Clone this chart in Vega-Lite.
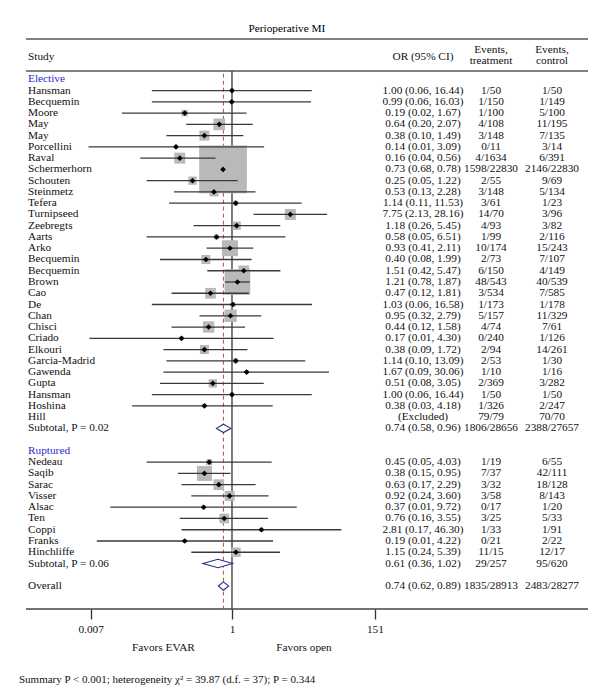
{
  "$schema": "https://vega.github.io/schema/vega-lite/v6.json",
  "autosize": {"type": "pad"},
  "padding": {"left": 19, "top": 22, "right": 5, "bottom": 5},
  "background": "white",
  "config": {"view": {"stroke": null}, "font": "Liberation Serif", "concat": {"spacing": 0}},
  "title": {"text": "Perioperative MI", "anchor": "middle", "dx": -17, "offset": 4, "fontSize": 11.3, "fontWeight": "normal", "font": "Liberation Serif", "color": "black"},
  "datasets": {
    "rows": [
      {"r": -2, "kind": "header", "name": "Study", "or": "OR (95% CI)", "trt": "Events,\ntreatment", "ctl": "Events,\ncontrol"},
      {"r": 0, "kind": "group", "name": "Elective"},
      {"r": 1, "kind": "study", "name": "Hansman", "or": "1.00 (0.06, 16.44)", "trt": "1/50", "ctl": "1/50", "est": 1.00, "lo": 0.06, "hi": 16.44, "w": 0.29},
      {"r": 2, "kind": "study", "name": "Becquemin", "or": "0.99 (0.06, 16.03)", "trt": "1/150", "ctl": "1/149", "est": 0.99, "lo": 0.06, "hi": 16.03, "w": 0.29},
      {"r": 3, "kind": "study", "name": "Moore", "or": "0.19 (0.02, 1.67)", "trt": "1/100", "ctl": "5/100", "est": 0.19, "lo": 0.021, "hi": 1.67, "w": 0.75},
      {"r": 4, "kind": "study", "name": "May", "or": "0.64 (0.20, 2.07)", "trt": "4/108", "ctl": "11/195", "est": 0.64, "lo": 0.20, "hi": 2.07, "w": 2.44},
      {"r": 5, "kind": "study", "name": "May", "or": "0.38 (0.10, 1.49)", "trt": "3/148", "ctl": "7/135", "est": 0.38, "lo": 0.10, "hi": 1.49, "w": 1.79},
      {"r": 6, "kind": "study", "name": "Porcellini", "or": "0.14 (0.01, 3.09)", "trt": "0/11", "ctl": "3/14", "est": 0.14, "lo": 0.0065, "hi": 3.09, "w": 0.29},
      {"r": 7, "kind": "study", "name": "Raval", "or": "0.16 (0.04, 0.56)", "trt": "4/1634", "ctl": "6/391", "est": 0.16, "lo": 0.04, "hi": 0.56, "w": 2.17},
      {"r": 8, "kind": "study", "name": "Schermerhorn", "or": "0.73 (0.68, 0.78)", "trt": "1598/22830", "ctl": "2146/22830", "est": 0.73, "lo": 0.68, "hi": 0.78, "w": 40.73},
      {"r": 9, "kind": "study", "name": "Schouten", "or": "0.25 (0.05, 1.22)", "trt": "2/55", "ctl": "9/69", "est": 0.25, "lo": 0.05, "hi": 1.22, "w": 1.24},
      {"r": 10, "kind": "study", "name": "Steinmetz", "or": "0.53 (0.13, 2.28)", "trt": "3/148", "ctl": "5/134", "est": 0.53, "lo": 0.13, "hi": 2.28, "w": 1.45},
      {"r": 11, "kind": "study", "name": "Tefera", "or": "1.14 (0.11, 11.53)", "trt": "3/61", "ctl": "1/23", "est": 1.14, "lo": 0.11, "hi": 11.53, "w": 0.45},
      {"r": 12, "kind": "study", "name": "Turnipseed", "or": "7.75 (2.13, 28.16)", "trt": "14/70", "ctl": "3/96", "est": 7.75, "lo": 2.13, "hi": 28.16, "w": 2.17},
      {"r": 13, "kind": "study", "name": "Zeebregts", "or": "1.18 (0.26, 5.45)", "trt": "4/93", "ctl": "3/82", "est": 1.18, "lo": 0.26, "hi": 5.45, "w": 1.24},
      {"r": 14, "kind": "study", "name": "Aarts", "or": "0.58 (0.05, 6.51)", "trt": "1/99", "ctl": "2/116", "est": 0.58, "lo": 0.05, "hi": 6.51, "w": 0.45},
      {"r": 15, "kind": "study", "name": "Arko", "or": "0.93 (0.41, 2.11)", "trt": "10/174", "ctl": "15/243", "est": 0.93, "lo": 0.41, "hi": 2.11, "w": 4.58},
      {"r": 16, "kind": "study", "name": "Becquemin", "or": "0.40 (0.08, 1.99)", "trt": "2/73", "ctl": "7/107", "est": 0.40, "lo": 0.08, "hi": 1.99, "w": 1.45},
      {"r": 17, "kind": "study", "name": "Becquemin", "or": "1.51 (0.42, 5.47)", "trt": "6/150", "ctl": "4/149", "est": 1.51, "lo": 0.42, "hi": 5.47, "w": 2.04},
      {"r": 18, "kind": "study", "name": "Brown", "or": "1.21 (0.78, 1.87)", "trt": "48/543", "ctl": "40/539", "est": 1.21, "lo": 0.78, "hi": 1.87, "w": 11.82},
      {"r": 19, "kind": "study", "name": "Cao", "or": "0.47 (0.12, 1.81)", "trt": "3/534", "ctl": "7/585", "est": 0.47, "lo": 0.12, "hi": 1.81, "w": 2.04},
      {"r": 20, "kind": "study", "name": "De", "or": "1.03 (0.06, 16.58)", "trt": "1/173", "ctl": "1/178", "est": 1.03, "lo": 0.06, "hi": 16.58, "w": 0.45},
      {"r": 21, "kind": "study", "name": "Chan", "or": "0.95 (0.32, 2.79)", "trt": "5/157", "ctl": "11/329", "est": 0.95, "lo": 0.32, "hi": 2.79, "w": 2.72},
      {"r": 22, "kind": "study", "name": "Chisci", "or": "0.44 (0.12, 1.58)", "trt": "4/74", "ctl": "7/61", "est": 0.44, "lo": 0.12, "hi": 1.58, "w": 2.29},
      {"r": 23, "kind": "study", "name": "Criado", "or": "0.17 (0.01, 4.30)", "trt": "0/240", "ctl": "1/126", "est": 0.17, "lo": 0.0067, "hi": 4.30, "w": 0.29},
      {"r": 24, "kind": "study", "name": "Elkouri", "or": "0.38 (0.09, 1.72)", "trt": "2/94", "ctl": "14/261", "est": 0.38, "lo": 0.09, "hi": 1.72, "w": 1.45},
      {"r": 25, "kind": "study", "name": "Garcia-Madrid", "or": "1.14 (0.10, 13.09)", "trt": "2/53", "ctl": "1/30", "est": 1.14, "lo": 0.10, "hi": 13.09, "w": 0.45},
      {"r": 26, "kind": "study", "name": "Gawenda", "or": "1.67 (0.09, 30.06)", "trt": "1/10", "ctl": "1/16", "est": 1.67, "lo": 0.09, "hi": 30.06, "w": 0.29},
      {"r": 27, "kind": "study", "name": "Gupta", "or": "0.51 (0.08, 3.05)", "trt": "2/369", "ctl": "3/282", "est": 0.51, "lo": 0.08, "hi": 3.05, "w": 1.24},
      {"r": 28, "kind": "study", "name": "Hansman", "or": "1.00 (0.06, 16.44)", "trt": "1/50", "ctl": "1/50", "est": 1.00, "lo": 0.06, "hi": 16.44, "w": 0.29},
      {"r": 29, "kind": "study", "name": "Hoshina", "or": "0.38 (0.03, 4.18)", "trt": "1/326", "ctl": "2/247", "est": 0.38, "lo": 0.03, "hi": 4.18, "w": 0.29},
      {"r": 30, "kind": "excluded", "name": "Hill", "or": "(Excluded)", "trt": "79/79", "ctl": "70/70"},
      {"r": 31, "kind": "sub", "name": "Subtotal, P = 0.02", "or": "0.74 (0.58, 0.96)", "trt": "1806/28656", "ctl": "2388/27657", "est": 0.74, "lo": 0.58, "hi": 0.96},
      {"r": 33, "kind": "group", "name": "Ruptured"},
      {"r": 34, "kind": "study", "name": "Nedeau", "or": "0.45 (0.05, 4.03)", "trt": "1/19", "ctl": "6/55", "est": 0.45, "lo": 0.05, "hi": 4.03, "w": 0.64},
      {"r": 35, "kind": "study", "name": "Saqib", "or": "0.38 (0.15, 0.95)", "trt": "7/37", "ctl": "42/111", "est": 0.38, "lo": 0.15, "hi": 0.95, "w": 4.03},
      {"r": 36, "kind": "study", "name": "Sarac", "or": "0.63 (0.17, 2.29)", "trt": "3/32", "ctl": "18/128", "est": 0.63, "lo": 0.17, "hi": 2.29, "w": 2.04},
      {"r": 37, "kind": "study", "name": "Visser", "or": "0.92 (0.24, 3.60)", "trt": "3/58", "ctl": "8/143", "est": 0.92, "lo": 0.24, "hi": 3.60, "w": 1.79},
      {"r": 38, "kind": "study", "name": "Alsac", "or": "0.37 (0.01, 9.72)", "trt": "0/17", "ctl": "1/20", "est": 0.37, "lo": 0.014, "hi": 9.72, "w": 0.29},
      {"r": 39, "kind": "study", "name": "Ten", "or": "0.76 (0.16, 3.55)", "trt": "3/25", "ctl": "5/33", "est": 0.76, "lo": 0.16, "hi": 3.55, "w": 1.68},
      {"r": 40, "kind": "study", "name": "Coppi", "or": "2.81 (0.17, 46.30)", "trt": "1/33", "ctl": "1/91", "est": 2.81, "lo": 0.17, "hi": 46.30, "w": 0.29},
      {"r": 41, "kind": "study", "name": "Franks", "or": "0.19 (0.01, 4.22)", "trt": "0/21", "ctl": "2/22", "est": 0.19, "lo": 0.0087, "hi": 4.22, "w": 0.29},
      {"r": 42, "kind": "study", "name": "Hinchliffe", "or": "1.15 (0.24, 5.39)", "trt": "11/15", "ctl": "12/17", "est": 1.15, "lo": 0.24, "hi": 5.39, "w": 1.56},
      {"r": 43, "kind": "sub", "name": "Subtotal, P = 0.06", "or": "0.61 (0.36, 1.02)", "trt": "29/257", "ctl": "95/620", "est": 0.61, "lo": 0.36, "hi": 1.02},
      {"r": 45, "kind": "overall", "name": "Overall", "or": "0.74 (0.62, 0.89)", "trt": "1835/28913", "ctl": "2483/28277", "est": 0.74, "lo": 0.62, "hi": 0.89}
    ]
  },
  "resolve": {"scale": {"x": "independent", "y": "independent"}, "axis": {"x": "independent", "y": "independent"}},
  "spacing": 0,
  "bounds": "flush",
  "hconcat": [
    {
      "width": 60, "height": 570,
      "layer": [
        {"data": {"values": [{}]}, "mark": {"type": "rule", "color": "#555", "strokeWidth": 1.5}, "encoding": {"y": {"datum": -3.58, "type": "quantitative", "scale": {"domain": [-3.58, 47.04], "reverse": true, "nice": false, "zero": false}, "axis": null}}},
        {"data": {"values": [{}]}, "mark": {"type": "rule", "color": "#555", "strokeWidth": 1.5}, "encoding": {"y": {"datum": -0.74, "type": "quantitative", "axis": null}}},
        {"data": {"values": [{}]}, "mark": {"type": "rule", "color": "#444", "strokeWidth": 1.5}, "encoding": {"y": {"datum": 47.04, "type": "quantitative", "axis": null}}},
        {"data": {"name": "rows"}, "transform": [{"filter": "isValid(datum.name)"}],
         "mark": {"type": "text", "align": "left", "baseline": "middle", "dx": 2, "fontSize": 11.3, "font": "Liberation Serif"},
         "encoding": {
           "x": {"datum": "c", "type": "nominal", "scale": {"type": "band", "paddingInner": 0, "paddingOuter": 0}, "bandPosition": 0, "axis": null},
           "y": {"field": "r", "type": "quantitative", "axis": null},
           "text": {"field": "name"},
           "color": {"condition": {"test": "datum.kind === 'group'", "value": "#2b2bd0"}, "value": "#111"}
         }},
        {"data": {"values": [{}]},
         "mark": {"type": "text", "align": "left", "baseline": "middle", "dx": -7, "fontSize": 11, "font": "Liberation Serif", "color": "#111"},
         "encoding": {
           "x": {"datum": "c", "type": "nominal", "scale": {"type": "band", "paddingInner": 0, "paddingOuter": 0}, "bandPosition": 0, "axis": null},
           "y": {"datum": 53.37, "type": "quantitative", "axis": null},
           "text": {"value": "Summary P < 0.001; heterogeneity χ² = 39.87 (d.f. = 37); P = 0.344"}
         }}
      ]
    },
    {
      "width": 294, "height": 570,
      "layer": [
        {"data": {"values": [{}]}, "mark": {"type": "rule", "color": "#555", "strokeWidth": 1.5}, "encoding": {"y": {"datum": -3.58, "type": "quantitative", "scale": {"domain": [-3.58, 47.04], "reverse": true, "nice": false, "zero": false}, "axis": null}}},
        {"data": {"values": [{}]}, "mark": {"type": "rule", "color": "#555", "strokeWidth": 1.5}, "encoding": {"y": {"datum": -0.74, "type": "quantitative", "axis": null}}},
        {"data": {"values": [{}]}, "mark": {"type": "rule", "color": "#444", "strokeWidth": 1.5}, "encoding": {"y": {"datum": 47.04, "type": "quantitative", "axis": null}}},
        {"data": {"values": [{}]}, "mark": {"type": "rule", "color": "#b0504f", "strokeWidth": 1, "strokeDash": [4, 3]},
         "encoding": {"x": {"datum": 0.74, "type": "quantitative", "scale": {"type": "log", "domain": [0.005949, 180.4], "nice": false},
                            "axis": {"values": [0.007, 1, 151], "format": "~g", "domain": false, "grid": false, "tickSize": 10, "tickColor": "#333", "tickWidth": 1.3, "labelFont": "Liberation Serif", "labelFontSize": 11.3, "labelColor": "#111", "labelPadding": 4, "title": null, "labelFlush": false, "labelOverlap": false}},
                      "y": {"datum": -0.5, "type": "quantitative", "axis": null}, "y2": {"datum": 47.04}}},
        {"data": {"values": [{}]}, "mark": {"type": "rule", "color": "#444", "strokeWidth": 1.4},
         "encoding": {"x": {"datum": 1, "type": "quantitative"}, "y": {"datum": -0.74, "type": "quantitative", "axis": null}, "y2": {"datum": 47.04}}},
        {"data": {"name": "rows"}, "transform": [{"filter": "datum.kind === 'study'"}],
         "mark": {"type": "square", "color": "#b9b9b9", "opacity": 1},
         "encoding": {"x": {"field": "est", "type": "quantitative"}, "y": {"field": "r", "type": "quantitative", "axis": null},
                      "size": {"field": "w", "type": "quantitative", "scale": {"domain": [0, 100], "range": [0, 5585]}, "legend": null}}},
        {"data": {"name": "rows"}, "transform": [{"filter": "datum.kind === 'study'"}],
         "mark": {"type": "rule", "color": "#3a3a3a", "strokeWidth": 1.3},
         "encoding": {"x": {"field": "lo", "type": "quantitative"}, "x2": {"field": "hi"}, "y": {"field": "r", "type": "quantitative", "axis": null}}},
        {"data": {"name": "rows"}, "transform": [{"filter": "datum.kind === 'study'"}],
         "mark": {"type": "point", "shape": "diamond", "filled": true, "color": "black", "opacity": 1, "size": 32},
         "encoding": {"x": {"field": "est", "type": "quantitative"}, "y": {"field": "r", "type": "quantitative", "axis": null}}},
        {"data": {"name": "rows"},
         "transform": [
           {"filter": "datum.kind === 'sub' || datum.kind === 'overall'"},
           {"fold": ["lo", "est", "hi"], "as": ["v", "x"]},
           {"calculate": "datum.v === 'est' ? 0.37 : 0", "as": "h"},
           {"calculate": "datum.r - datum.h", "as": "y1"},
           {"calculate": "datum.r + datum.h", "as": "y2"}
         ],
         "mark": {"type": "area", "orient": "vertical", "fill": "white", "fillOpacity": 1, "stroke": "#2b2b8c", "strokeWidth": 1.1},
         "encoding": {"x": {"field": "x", "type": "quantitative"}, "y": {"field": "y1", "type": "quantitative", "axis": null}, "y2": {"field": "y2"}, "detail": {"field": "r"}}},
        {"data": {"values": [{}]}, "mark": {"type": "text", "baseline": "middle", "fontSize": 11.3, "font": "Liberation Serif", "color": "#111"},
         "encoding": {"x": {"datum": 0.09, "type": "quantitative"}, "y": {"datum": 50.5, "type": "quantitative", "axis": null}, "text": {"value": "Favors EVAR"}}},
        {"data": {"values": [{}]}, "mark": {"type": "text", "baseline": "middle", "fontSize": 11.3, "font": "Liberation Serif", "color": "#111"},
         "encoding": {"x": {"datum": 12.5, "type": "quantitative"}, "y": {"datum": 50.5, "type": "quantitative", "axis": null}, "text": {"value": "Favors open"}}}
      ]
    },
    {
      "width": 86, "height": 570,
      "layer": [
        {"data": {"values": [{}]}, "mark": {"type": "rule", "color": "#555", "strokeWidth": 1.5}, "encoding": {"y": {"datum": -3.58, "type": "quantitative", "scale": {"domain": [-3.58, 47.04], "reverse": true, "nice": false, "zero": false}, "axis": null}}},
        {"data": {"values": [{}]}, "mark": {"type": "rule", "color": "#555", "strokeWidth": 1.5}, "encoding": {"y": {"datum": -0.74, "type": "quantitative", "axis": null}}},
        {"data": {"values": [{}]}, "mark": {"type": "rule", "color": "#444", "strokeWidth": 1.5}, "encoding": {"y": {"datum": 47.04, "type": "quantitative", "axis": null}}},
        {"data": {"name": "rows"}, "transform": [{"filter": "isValid(datum.or)"}],
         "mark": {"type": "text", "baseline": "middle", "fontSize": 11.3, "font": "Liberation Serif", "color": "#111"},
         "encoding": {"x": {"datum": "c", "type": "nominal", "axis": null}, "y": {"field": "r", "type": "quantitative", "axis": null}, "text": {"field": "or"}}}
      ]
    },
    {
      "width": 50, "height": 570,
      "layer": [
        {"data": {"values": [{}]}, "mark": {"type": "rule", "color": "#555", "strokeWidth": 1.5}, "encoding": {"y": {"datum": -3.58, "type": "quantitative", "scale": {"domain": [-3.58, 47.04], "reverse": true, "nice": false, "zero": false}, "axis": null}}},
        {"data": {"values": [{}]}, "mark": {"type": "rule", "color": "#555", "strokeWidth": 1.5}, "encoding": {"y": {"datum": -0.74, "type": "quantitative", "axis": null}}},
        {"data": {"values": [{}]}, "mark": {"type": "rule", "color": "#444", "strokeWidth": 1.5}, "encoding": {"y": {"datum": 47.04, "type": "quantitative", "axis": null}}},
        {"data": {"name": "rows"}, "transform": [{"filter": "isValid(datum.trt) && datum.kind !== 'header'"}],
         "mark": {"type": "text", "baseline": "middle", "fontSize": 11.3, "font": "Liberation Serif", "color": "#111"},
         "encoding": {"x": {"datum": "c", "type": "nominal", "axis": null}, "y": {"field": "r", "type": "quantitative", "axis": null}, "text": {"field": "trt"}}},
        {"data": {"name": "rows"}, "transform": [{"filter": "datum.kind === 'header'"}],
         "mark": {"type": "text", "baseline": "middle", "dy": -6.5, "fontSize": 11.3, "font": "Liberation Serif", "color": "#111", "lineBreak": "\n", "lineHeight": 11},
         "encoding": {"x": {"datum": "c", "type": "nominal", "axis": null}, "y": {"field": "r", "type": "quantitative", "axis": null}, "text": {"field": "trt"}}}
      ]
    },
    {
      "width": 72, "height": 570,
      "layer": [
        {"data": {"values": [{}]}, "mark": {"type": "rule", "color": "#555", "strokeWidth": 1.5}, "encoding": {"y": {"datum": -3.58, "type": "quantitative", "scale": {"domain": [-3.58, 47.04], "reverse": true, "nice": false, "zero": false}, "axis": null}}},
        {"data": {"values": [{}]}, "mark": {"type": "rule", "color": "#555", "strokeWidth": 1.5}, "encoding": {"y": {"datum": -0.74, "type": "quantitative", "axis": null}}},
        {"data": {"values": [{}]}, "mark": {"type": "rule", "color": "#444", "strokeWidth": 1.5}, "encoding": {"y": {"datum": 47.04, "type": "quantitative", "axis": null}}},
        {"data": {"name": "rows"}, "transform": [{"filter": "isValid(datum.ctl) && datum.kind !== 'header'"}],
         "mark": {"type": "text", "baseline": "middle", "fontSize": 11.3, "font": "Liberation Serif", "color": "#111"},
         "encoding": {"x": {"datum": "c", "type": "nominal", "axis": null}, "y": {"field": "r", "type": "quantitative", "axis": null}, "text": {"field": "ctl"}}},
        {"data": {"name": "rows"}, "transform": [{"filter": "datum.kind === 'header'"}],
         "mark": {"type": "text", "baseline": "middle", "dy": -6.5, "fontSize": 11.3, "font": "Liberation Serif", "color": "#111", "lineBreak": "\n", "lineHeight": 11},
         "encoding": {"x": {"datum": "c", "type": "nominal", "axis": null}, "y": {"field": "r", "type": "quantitative", "axis": null}, "text": {"field": "ctl"}}}
      ]
    }
  ]
}
